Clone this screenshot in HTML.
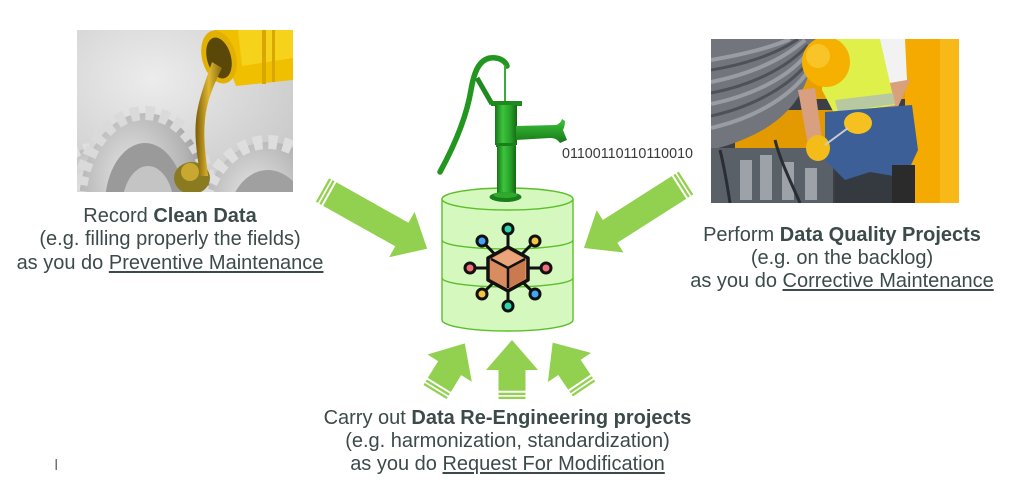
<!DOCTYPE html>
<html><head><meta charset="utf-8">
<style>
html,body{margin:0;padding:0;background:#fff;}
body{width:1023px;height:483px;position:relative;overflow:hidden;font-family:"Liberation Sans",Arial,sans-serif;}
svg{position:absolute;left:0;top:0;}
.blk{position:absolute;text-align:center;font-size:20px;line-height:23.5px;color:#3d4a4a;white-space:nowrap;}
.blk b{font-weight:bold;}
.blk u{text-decoration:underline;text-decoration-thickness:1.5px;text-underline-offset:2px;}
</style></head>
<body>
<svg width="1023" height="483" viewBox="0 0 1023 483">
<defs>
 <clipPath id="cl1"><rect x="77" y="30" width="216" height="162"/></clipPath>
 <clipPath id="cl2"><rect x="711" y="39" width="248" height="164"/></clipPath>
 <radialGradient id="bg1" cx="0.35" cy="0.3" r="0.8">
  <stop offset="0" stop-color="#ececec"/><stop offset="1" stop-color="#c8c8c8"/>
 </radialGradient>
 <linearGradient id="pg" x1="0" x2="1" y1="0" y2="0">
  <stop offset="0" stop-color="#157515"/><stop offset="0.35" stop-color="#3cc43c"/><stop offset="0.7" stop-color="#28a028"/><stop offset="1" stop-color="#136813"/>
 </linearGradient>
 <linearGradient id="pg2" x1="0" x2="0" y1="0" y2="1">
  <stop offset="0" stop-color="#3cc43c"/><stop offset="1" stop-color="#167816"/>
 </linearGradient>
 <linearGradient id="oil" x1="0" x2="1">
  <stop offset="0" stop-color="#7a5a08"/><stop offset="0.5" stop-color="#e0b830"/><stop offset="1" stop-color="#8a6a10"/>
 </linearGradient>
 <radialGradient id="gear" cx="0.4" cy="0.35" r="0.7">
  <stop offset="0" stop-color="#e6e6e6"/><stop offset="0.6" stop-color="#b4b4b4"/><stop offset="1" stop-color="#7a7a7a"/>
 </radialGradient>
</defs>

<!-- LEFT PHOTO -->
<g clip-path="url(#cl1)">
 <rect x="77" y="30" width="216" height="162" fill="url(#bg1)"/>
 <ellipse cx="92" cy="200" rx="40" ry="52" fill="url(#gear)" stroke="#e0e0e0" stroke-width="10" stroke-dasharray="6 5"/>
 <ellipse cx="145" cy="205" rx="66" ry="92" fill="url(#gear)" stroke="#dadada" stroke-width="14" stroke-dasharray="9 6"/>
 <ellipse cx="145" cy="205" rx="40" ry="62" fill="#9a9a9a"/>
 <ellipse cx="148" cy="208" rx="26" ry="42" fill="#c4c4c4"/>
 <ellipse cx="268" cy="222" rx="66" ry="80" fill="url(#gear)" stroke="#dedede" stroke-width="14" stroke-dasharray="9 6"/>
 <ellipse cx="268" cy="222" rx="40" ry="52" fill="#a0a0a0"/>
 <ellipse cx="192" cy="178" rx="18" ry="16" fill="#8a7a20"/>
 <ellipse cx="190" cy="172" rx="9" ry="9" fill="#c8a830"/>
 <path d="M214,30 L293,30 L293,80 L236,86 Z" fill="#f0c000"/>
 <path d="M238,30 L293,30 L293,58 L242,66 Z" fill="#f6d21a"/>
 <rect x="262" y="30" width="4" height="54" fill="#d9a800"/>
 <rect x="272" y="30" width="3" height="52" fill="#d9a800"/>
 <ellipse cx="219" cy="57" rx="17" ry="27" fill="#e2b000" transform="rotate(-15 219 57)"/>
 <ellipse cx="219" cy="58" rx="12" ry="21" fill="#5a4808" transform="rotate(-15 219 58)"/>
 <path d="M212,62 C206,80 198,100 196,120 C194,140 198,158 200,176 L208,176 C206,158 203,140 205,120 C207,100 214,84 222,68 Z" fill="url(#oil)"/>
</g>

<!-- RIGHT PHOTO -->
<g clip-path="url(#cl2)">
 <rect x="711" y="39" width="248" height="164" fill="#3c4046"/>
 <rect x="800" y="39" width="159" height="60" fill="#e7a000"/>
 <g stroke="#2a2a2a" stroke-width="2">
  <line x1="885" y1="44" x2="918" y2="44"/><line x1="885" y1="50" x2="918" y2="50"/>
  <line x1="885" y1="56" x2="918" y2="56"/><line x1="885" y1="62" x2="918" y2="62"/>
  <line x1="885" y1="68" x2="918" y2="68"/>
 </g>
 <rect x="735" y="110" width="100" height="40" fill="#e29a00"/>
 <rect x="835" y="128" width="100" height="75" fill="#353a40"/>
 <rect x="905" y="39" width="54" height="164" fill="#f4aa00"/>
 <rect x="940" y="39" width="19" height="164" fill="#f7b818"/>
 <path d="M711,39 L815,39 C812,90 790,130 711,150 Z" fill="#72757c"/>
 <g fill="none" stroke="#9a9ca3" stroke-width="4">
  <path d="M711,60 C740,55 770,48 790,39"/>
  <path d="M711,82 C745,75 780,62 805,40"/>
  <path d="M711,104 C750,96 790,78 810,50"/>
  <path d="M711,128 C755,118 795,95 812,65"/>
 </g>
 <g fill="none" stroke="#4e5157" stroke-width="3">
  <path d="M711,70 C742,65 775,55 798,39"/>
  <path d="M711,93 C748,86 785,70 808,45"/>
  <path d="M711,116 C752,107 792,86 811,58"/>
 </g>
 <rect x="711" y="148" width="122" height="55" fill="#5a6068"/>
 <g fill="#9ca2a8">
  <rect x="740" y="160" width="12" height="40"/><rect x="760" y="155" width="12" height="45"/>
  <rect x="782" y="162" width="12" height="38"/><rect x="805" y="168" width="12" height="32"/>
 </g>
 <g stroke="#2a2e34" stroke-width="3" fill="none">
  <path d="M720,150 C725,170 728,190 730,203"/><path d="M775,140 C780,160 790,180 800,203"/>
 </g>
 <path d="M798,90 L815,88 L822,140 L808,145 Z" fill="#d8a080"/>
 <path d="M895,70 L910,80 L890,125 L878,118 Z" fill="#d9a07c"/>
 <path d="M875,39 L905,39 L907,80 L878,85 Z" fill="#f2f2f2"/>
 <path d="M825,39 L880,39 L895,105 L835,115 L822,90 Z" fill="#dff04a"/>
 <path d="M835,100 L893,93 L895,104 L838,112 Z" fill="#b8c8a0"/>
 <path d="M825,112 L912,105 L918,150 L905,178 L870,172 L845,180 L825,160 Z" fill="#3b5f96"/>
 <path d="M892,165 L915,165 L915,203 L892,203 Z" fill="#2b2b2b"/>
 <ellipse cx="826" cy="62" rx="24" ry="25" fill="#f5b000"/>
 <ellipse cx="818" cy="56" rx="12" ry="12" fill="#f9c428"/>
 <ellipse cx="858" cy="123" rx="14" ry="11" fill="#f5c020"/>
 <ellipse cx="818" cy="148" rx="12" ry="13" fill="#f3bc18"/>
 <line x1="825" y1="145" x2="848" y2="128" stroke="#cccccc" stroke-width="2"/>
</g>

<!-- ARROWS -->
<g fill="#92d050">
 <g transform="translate(322.5,190) rotate(29.3)">
  <rect x="0" y="-13.5" width="2.3" height="27"/><rect x="4" y="-13.5" width="2.3" height="27"/>
  <polygon points="8.3,-13.5 91,-13.5 91,-26 120,0 91,26 91,13.5 8.3,13.5"/>
 </g>
 <g transform="translate(686,183) rotate(147.5)">
  <rect x="0" y="-13.5" width="2.3" height="27"/><rect x="4" y="-13.5" width="2.3" height="27"/>
  <polygon points="8.3,-13.5 90,-13.5 90,-25 121,0 90,25 90,13.5 8.3,13.5"/>
 </g>
 <g transform="translate(512,399) rotate(-90)">
  <rect x="0" y="-13.5" width="2.3" height="27"/><rect x="4" y="-13.5" width="2.3" height="27"/>
  <polygon points="8.3,-13.5 29,-13.5 29,-26 59,0 29,26 29,13.5 8.3,13.5"/>
 </g>
 <g transform="translate(435,392) rotate(-58.5)">
  <rect x="0" y="-13.5" width="2.3" height="27"/><rect x="4" y="-13.5" width="2.3" height="27"/>
  <polygon points="8.3,-13.5 28,-13.5 28,-26 57,0 28,26 28,13.5 8.3,13.5"/>
 </g>
 <g transform="translate(584,389) rotate(-124)">
  <rect x="0" y="-13.5" width="2.3" height="27"/><rect x="4" y="-13.5" width="2.3" height="27"/>
  <polygon points="8.3,-13.5 26,-13.5 26,-26 56,0 26,26 26,13.5 8.3,13.5"/>
 </g>
</g>

<!-- CYLINDER -->
<g stroke="#5cbf2a" stroke-width="1.4" fill="#d4f8be">
 <path d="M442,199 L442,320 A65.5,11 0 0 0 573,320 L573,199 Z"/>
 <ellipse cx="507.5" cy="199" rx="65.5" ry="11"/>
 <path d="M442,240 A65.5,9 0 0 0 573,240" fill="none"/>
 <path d="M442,278 A65.5,9 0 0 0 573,278" fill="none"/>
</g>

<!-- PUMP -->
<g>
 <path d="M440,172 C452,150 466,120 471,90 C474,72 479,60 490,58 C498,57 505,60 507,66" stroke="#22961f" stroke-width="5.5" fill="none" stroke-linecap="round"/>
 <path d="M477,78 L492,104" stroke="#1f8a1f" stroke-width="5"/>
 <line x1="505" y1="65" x2="505" y2="103" stroke="#3aaa3a" stroke-width="2"/>
 <rect x="491" y="101" width="31" height="5" fill="#1e8a1e"/>
 <rect x="495" y="105" width="22" height="40" fill="url(#pg)"/>
 <path d="M516,126 L556,125 C559,124 561,122 562,119 L565,121 C565,125 564,128 563,130 L567,140 L560,143 C557,139 554,138 550,138 L516,140 Z" fill="url(#pg2)"/>
 <rect x="496" y="143" width="20" height="4" fill="#1a7f1a"/>
 <rect x="497" y="146" width="19" height="48" fill="url(#pg)"/>
 <ellipse cx="505.5" cy="197" rx="16" ry="5" fill="#1a7f1a"/>
 <ellipse cx="505.5" cy="195" rx="12" ry="3" fill="#2eaa2e"/>
</g>

<!-- ICON -->
<g stroke="#111" stroke-width="3" stroke-linecap="round">
 <line x1="508" y1="268" x2="508" y2="229"/><line x1="508" y1="268" x2="508" y2="306"/>
 <line x1="508" y1="268" x2="470" y2="268"/><line x1="508" y1="268" x2="546" y2="268"/>
 <line x1="508" y1="268" x2="482" y2="241"/><line x1="508" y1="268" x2="535" y2="241"/>
 <line x1="508" y1="268" x2="482" y2="294"/><line x1="508" y1="268" x2="535" y2="294"/>
</g>
<polygon points="508,247 528,258 528,280 508,291 488,280 488,258" fill="#d98c5f" stroke="#111" stroke-width="3.5" stroke-linejoin="round"/>
<polygon points="508,250 525,259 508,268 491,259" fill="#eaa67a"/>
<polygon points="508,268 525,259 525,279 508,288" fill="#c97a4e"/>
<g stroke="#111" stroke-width="2.5" fill="none" stroke-linejoin="round">
 <polyline points="491,259 508,268 525,259"/><line x1="508" y1="268" x2="508" y2="288"/>
</g>
<g stroke="#111" stroke-width="3">
 <circle cx="508" cy="229" r="5" fill="#2fd6a8"/><circle cx="508" cy="306" r="5" fill="#2fd6a8"/>
 <circle cx="470" cy="268" r="5" fill="#f2707a"/><circle cx="546" cy="268" r="5" fill="#f2707a"/>
 <circle cx="482" cy="241" r="5" fill="#42a5f5"/><circle cx="535" cy="294" r="5" fill="#42a5f5"/>
 <circle cx="535" cy="241" r="5" fill="#f6c343"/><circle cx="482" cy="294" r="5" fill="#f6c343"/>
</g>

<text x="562" y="158" font-family="Liberation Sans, Arial, sans-serif" font-size="15" fill="#3a3a3a" textLength="131" lengthAdjust="spacingAndGlyphs">01100110110110010</text>

<rect x="55.5" y="459" width="1.5" height="11" fill="#6b7580"/>
</svg>

<div class="blk" style="left:0;width:340px;top:204.6px;">Record <b>Clean Data</b><br>(e.g. filling properly the fields)<br>as you do <u>Preventive Maintenance</u></div>
<div class="blk" style="left:642px;width:400px;top:223.6px;line-height:23px;">Perform <b>Data Quality Projects</b><br>(e.g. on the backlog)<br>as you do <u>Corrective Maintenance</u></div>
<div class="blk" style="left:307.5px;width:400px;top:406.5px;line-height:23px;">Carry out <b>Data Re-Engineering projects</b><br>(e.g. harmonization, standardization)<br>as you do <u>Request For Modification</u></div>
</body></html>
